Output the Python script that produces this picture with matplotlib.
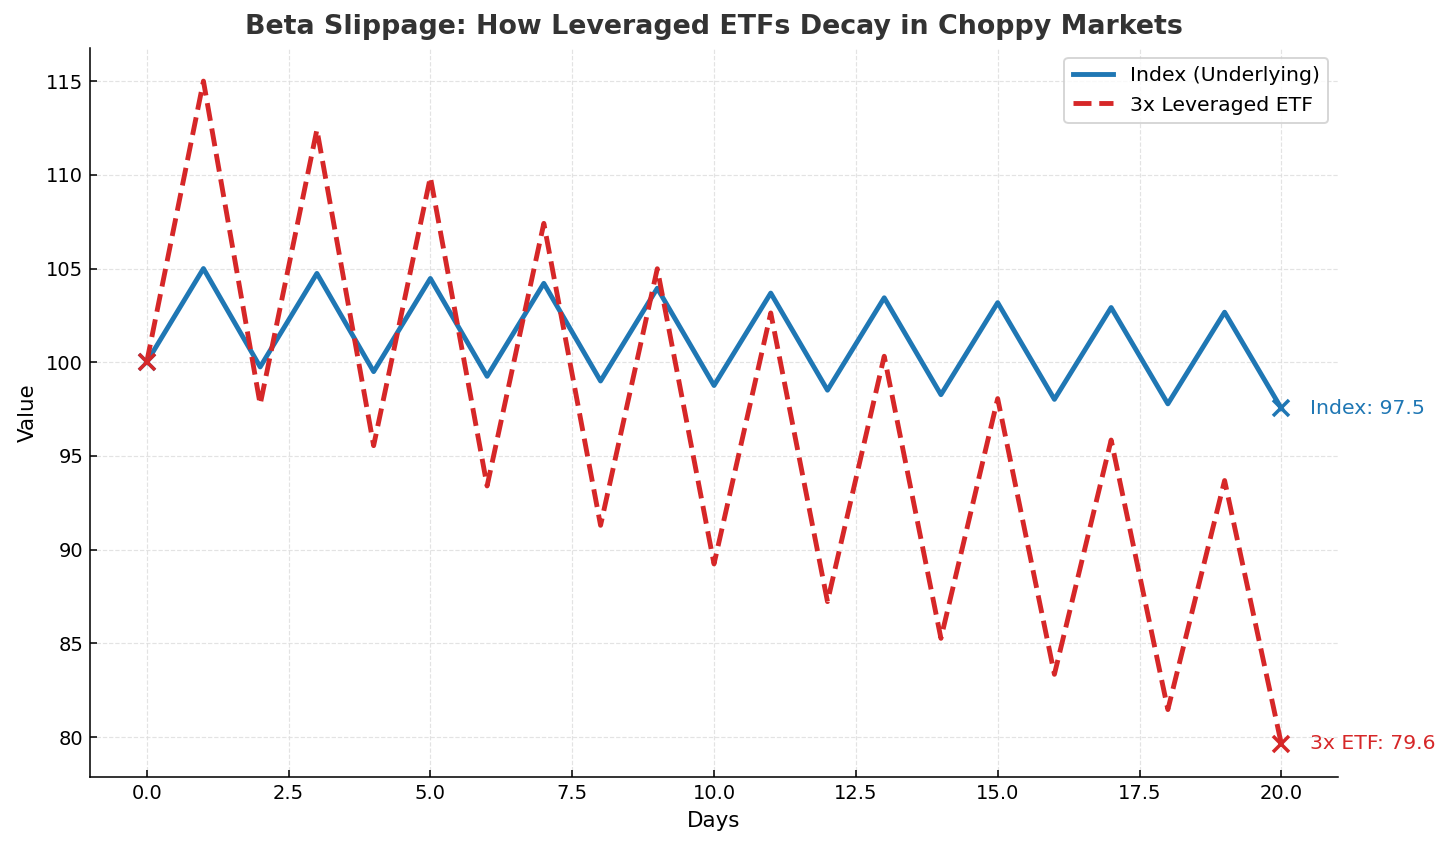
import matplotlib
matplotlib.use("Agg")
import matplotlib.pyplot as plt

# daily values
days = list(range(21))
index_vals = [100.0, 105.0, 99.75, 104.74, 99.5, 104.47, 99.25, 104.21, 99.0, 103.95,
              98.76, 103.69, 98.51, 103.44, 98.27, 103.18, 98.02, 102.92, 97.78, 102.67, 97.54]
etf_vals = [100.0, 115.0, 97.75, 112.41, 95.55, 109.88, 93.4, 107.41, 91.3, 104.99,
            89.24, 102.63, 87.23, 100.32, 85.27, 98.06, 83.35, 95.85, 81.47, 93.69, 79.64]

blue = "#1f77b4"
red = "#d62728"

fig = plt.figure(figsize=(1456 / 140, 849 / 140), dpi=140)
ax = fig.add_axes([0.0618, 0.0848, 0.8572, 0.8587])

ax.plot(days, index_vals, color=blue, lw=2.5, label="Index (Underlying)")
ax.plot(days, etf_vals, color=red, lw=2.5, ls="--", label="3x Leveraged ETF")

# start / end markers
ax.plot([days[0]], [index_vals[0]], "x", color=blue, ms=8, mew=1.8)
ax.plot([days[0]], [etf_vals[0]], "x", color=red, ms=8, mew=1.8)
ax.plot([days[-1]], [index_vals[-1]], "x", color=blue, ms=8, mew=1.8)
ax.plot([days[-1]], [etf_vals[-1]], "x", color=red, ms=8, mew=1.8)

ax.text(days[-1] + 0.5, index_vals[-1], f"Index: {index_vals[-1]:.1f}",
        color=blue, fontsize=10.5, va="center", ha="left")
ax.text(days[-1] + 0.5, etf_vals[-1], f"3x ETF: {etf_vals[-1]:.1f}",
        color=red, fontsize=10.5, va="center", ha="left")

ax.set_title("Beta Slippage: How Leveraged ETFs Decay in Choppy Markets",
             fontsize=13.8, fontweight="bold", color="#333333", pad=7)
ax.set_xlabel("Days", fontsize=11)
ax.set_ylabel("Value", fontsize=11)

ax.grid(True, ls="--", lw=0.6, color="#dddddd", alpha=0.8)
ax.tick_params(direction="in", labelsize=10)
ax.spines["top"].set_visible(False)
ax.spines["right"].set_visible(False)

ax.legend(loc="upper right", fontsize=10.5)

fig.savefig("out.png", dpi=140)
